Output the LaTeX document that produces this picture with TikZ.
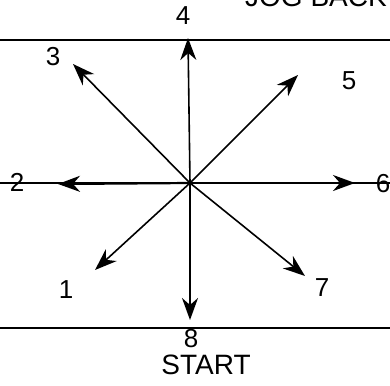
\documentclass[tikz,border=0pt]{standalone}
\usepackage{fontspec}
\setmainfont{Liberation Sans}
\usepackage{tikz}
\usetikzlibrary{positioning,arrows.meta}

\begin{document}
\begin{tikzpicture}[
   x=1pt, y=-1pt,
   lbl/.style={inner sep=0pt, font=\fontsize{26}{30}\selectfont},
   big/.style={lbl, font=\fontsize{28}{32}\selectfont},
   rule/.style={line width=1.8pt},
   dir/.style={line width=1.6pt, -{Stealth[length=22pt,width=16pt,inset=7pt]}},
   dirh/.style={dir, line width=2.2pt}]
  \useasboundingbox (0,0) rectangle (390,385);

  % frame lines
  \coordinate (topl) at (0,40);   \coordinate (topr) at (390,40);
  \coordinate (botl) at (0,328);  \coordinate (botr) at (390,328);
  \coordinate (midl) at (0,183);  \coordinate (midr) at (390,183);
  \draw[rule] (topl) -- (topr);
  \draw[rule] (botl) -- (botr);
  \draw[line width=1.4pt] (midl) -- (midr);

  % labels
  \node[lbl] (l1) at (66,290) {1};
  \node[lbl] (l2) at (17,182) {2};
  \node[lbl] (l3) at (53,57) {3};
  \node[lbl] (l4) at (183,16) {4};
  \node[lbl] (l5) at (349,81) {5};
  \node[lbl] (l6) at (383,184) {6};
  \node[lbl] (l7) at (322,288) {7};
  \node[lbl, anchor=base] (l8) at (191,347) {8};
  \node[big, anchor=base] (start) at (206,374) {START};
  \node[big, anchor=base west] (jog) at (245,7) {JOG BACK};

  % arrows from the centre
  \coordinate (c) at (190,183);
  \coordinate (t1) at (95,270);
  \coordinate (t2) at (58,184);
  \coordinate (t3) at (73,64);
  \coordinate (t4) at (188,38);
  \coordinate (t5) at (298,75);
  \coordinate (t6) at (355,183);
  \coordinate (t7) at (305,276);
  \coordinate (t8) at (190,320);
  \draw[dir] (c) -- (t1);
  \draw[dirh] (c) -- (t2);
  \draw[dir] (c) -- (t3);
  \draw[dir] (c) -- (t4);
  \draw[dir] (c) -- (t5);
  \draw[dirh] (c) -- (t6);
  \draw[dir] (c) -- (t7);
  \draw[dir] (c) -- (t8);
\end{tikzpicture}
\end{document}
